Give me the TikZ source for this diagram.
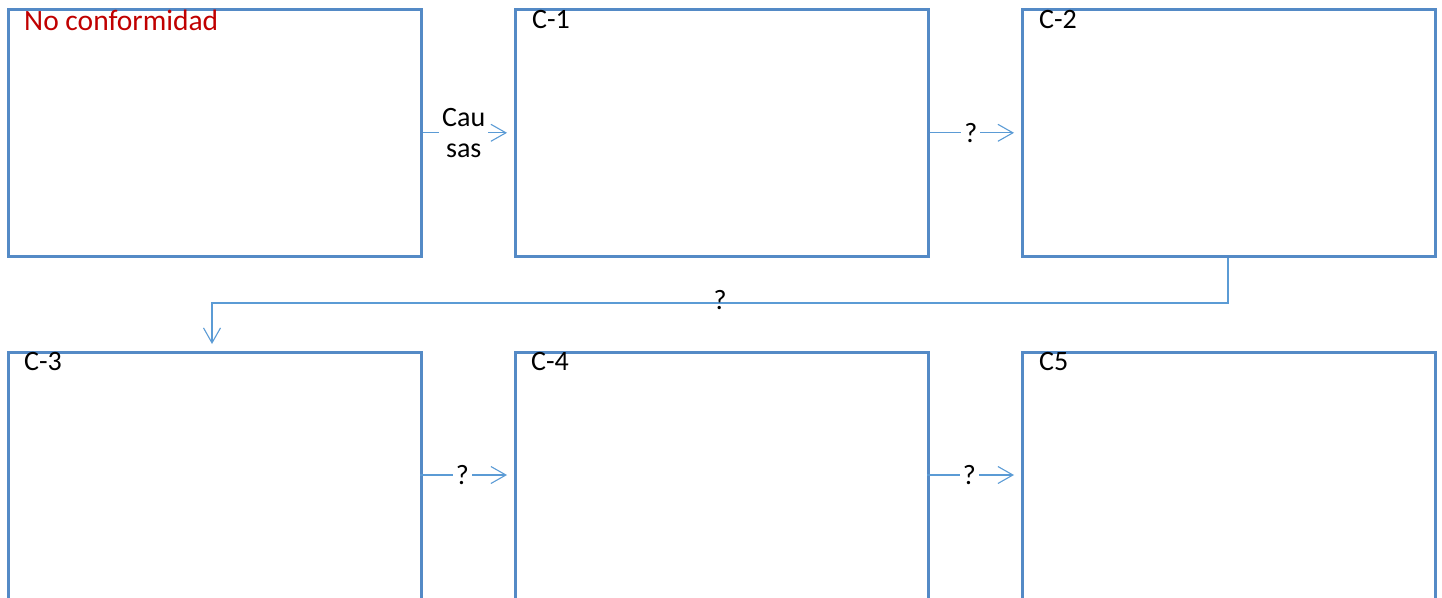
\documentclass[tikz,border=0pt]{standalone}
\usepackage{fontspec}
\setmainfont{Carlito}
\usetikzlibrary{arrows.meta,positioning}
\definecolor{boxblue}{RGB}{84,138,198}
\definecolor{lineblue}{RGB}{91,155,213}
\definecolor{ncred}{RGB}{192,0,0}
\tikzset{
  card/.style={draw=boxblue, line width=2.6pt, minimum width=413pt, anchor=north west, inner sep=0pt},
  conn/.style={draw=lineblue, line width=1.1pt, -{Straight Barb[length=15pt,width=17pt,line width=1.1pt]}, shorten >=7pt},
  lbl/.style={font=\fontsize{28}{31}\selectfont, inner sep=3pt, fill=white, align=center},
  qlbl/.style={font=\fontsize{28}{31}\selectfont, inner sep=0pt},
  ttl/.style={font=\fontsize{28}{32}\selectfont, anchor=west, inner sep=0pt}
}
\begin{document}
\begin{tikzpicture}[x=1pt,y=-1pt]
\useasboundingbox (0,0) rectangle (1442,597);
\begin{scope}
\clip (0,0) rectangle (1442,597);
% top row
\node[card, minimum height=247pt] (b0) at (7,8) {};
\node[card, minimum height=247pt] (b1) at (514,8) {};
\node[card, minimum height=247pt] (b2) at (1021,8) {};
% bottom row (cut by the page edge)
\node[card, minimum height=300pt] (b3) at (7,351) {};
\node[card, minimum height=300pt] (b4) at (514,351) {};
\node[card, minimum height=300pt] (b5) at (1021,351) {};
\end{scope}
% titles
\node[ttl, text=ncred, font=\fontsize{29.5}{32}\selectfont] (t0) at (24,20) {No conformidad};
\node[ttl] (t1) at (532,20) {C-1};
\node[ttl] (t2) at (1039,20) {C-2};
\node[ttl] (t3) at (24,362) {C-3};
\node[ttl] (t4) at (531,362) {C-4};
\node[ttl] (t5) at (1039,362) {C5};
% connector anchors for the bottom row
\coordinate (r3) at (420,475);
\coordinate (l4) at (514,475);
\coordinate (r4) at (927,475);
\coordinate (l5) at (1021,475);
\coordinate (bend1) at (1228,303);
\coordinate (bend2) at (212,303);
% connectors
\draw[conn] (b0.east) -- node[lbl, pos=0.45]{Cau\\sas} (b1.west);
\draw[conn] (b1.east) -- node[lbl, pos=0.45]{?} (b2.west);
\draw[conn] (r3) -- node[lbl, pos=0.45]{?} (l4);
\draw[conn] (r4) -- node[lbl, pos=0.45]{?} (l5);
\draw[conn] (b2.south -| bend1) -- (bend1) -- node[qlbl, yshift=3pt]{?} (bend2) -- (b3.north -| bend2);
\end{tikzpicture}
\end{document}
